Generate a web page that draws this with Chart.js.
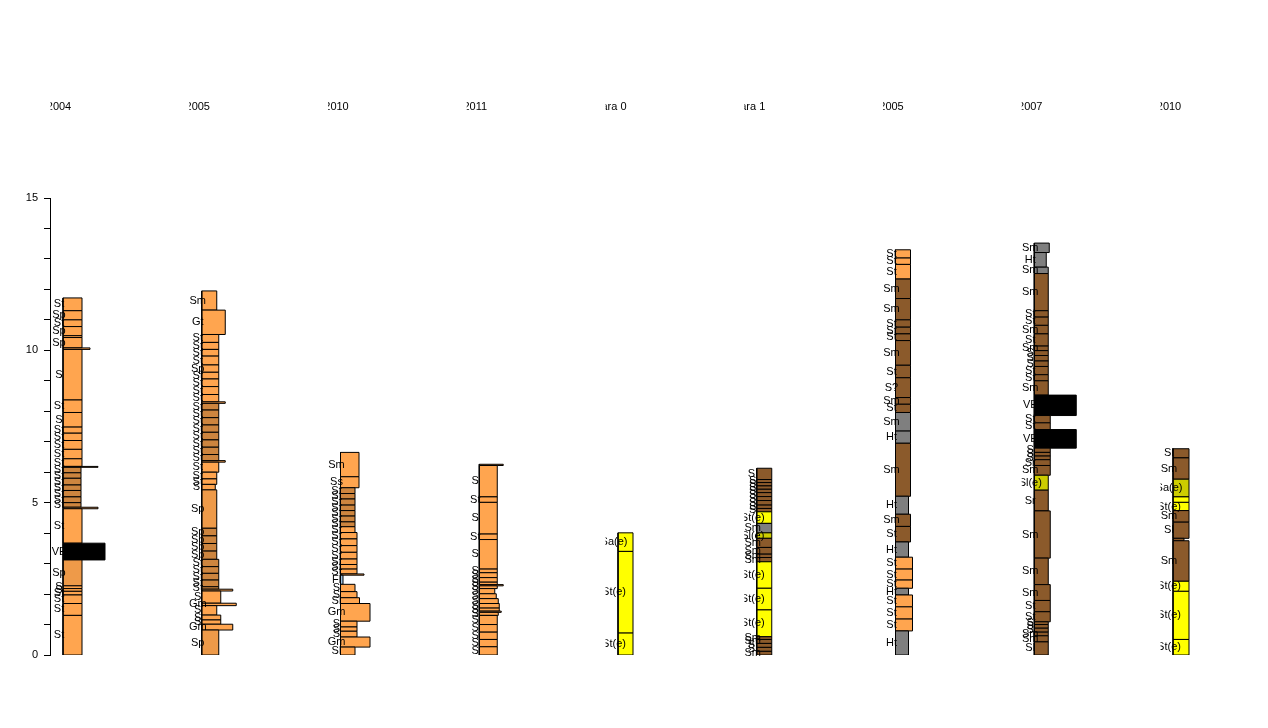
<!DOCTYPE html>
<html>
<head>
<meta charset="utf-8">
<script src="https://cdn.jsdelivr.net/npm/chart.js@4/dist/chart.umd.min.js"></script>
<style>
html,body{margin:0;padding:0;background:#ffffff;}
#wrap{width:1268px;height:728px;position:relative;}
</style>
</head>
<body>
<div id="wrap"><canvas id="chart" width="1268" height="728"></canvas></div>
<script>
// ---------------- DATA ----------------
const sectionTitles = ['2004', '2005', '2010', '2011', 'ara 0', 'ara 1', '2005', '2007', '2010'];
const depthTicks = [0, 5, 10, 15];

// Section 1
const s1Bounds = [0,1.30,1.69,1.97,2.09,2.18,2.27,3.12,3.67,4.80,4.85,5.00,5.19,5.40,5.58,5.80,5.98,6.16,6.19,6.44,6.75,7.04,7.28,7.48,7.96,8.37,10.03,10.08,10.42,10.48,10.78,11.00,11.30,11.72];
const s1Grain  = [19,19,19,19,19,19,19,42,19,35,18,18,18,18,18,18,18,35,19,19,19,19,19,19,19,19,27,19,19,19,19,19,19];
const s1Lith   = ['o','o','o','o','o','o','d','k','o','o','p','p','p','p','p','p','p','o','o','o','o','o','o','o','o','o','o','o','o','o','o','o','o'];
const s1Facies = ['St','St','St','St','S','S','Sp','VE','St','','St','St','St','St','St','St','St','','St','St','St','St','St','S','St','S','','Sp','','Sp','St','Sp','St'];

// Section 2
const s2Bounds = [0,0.82,1.01,1.15,1.31,1.62,1.70,2.10,2.16,2.24,2.46,2.68,2.90,3.14,3.41,3.66,3.91,4.16,5.42,5.60,5.78,6.00,6.33,6.38,6.58,6.82,7.06,7.31,7.55,7.79,8.04,8.26,8.31,8.55,8.81,9.06,9.28,9.52,9.81,10.03,10.26,10.52,11.32,11.95];
const s2Grain  = [17,31,19,19,15,34.5,19,31,17,17,17,17,17,15,15,15,15,15,13.5,15,15,17,23.5,17,17,17,17,17,17,17,17,23.5,17,17,17,17,17,17,17,17,17,23.5,15];
const s2Lith   = ['d','o','o','o','o','o','o','o','p','p','p','p','p','p','p','p','p','d','o','o','o','o','o','p','p','p','p','p','p','p','p','o','o','o','o','o','o','o','o','o','o','o','o'];
const s2Facies = ['Sp','Gm','S','S','S','Gm','S','','St','St','St','St','St','Sp','Sp','Sp','Sp','Sp','Sl','St','St','St','','St','St','St','St','St','St','St','St','','St','St','St','St','Sp','St','St','St','St','Gt','Sm'];

// Section 3
const s3Bounds = [0,0.26,0.59,0.78,0.92,1.11,1.69,1.88,2.08,2.32,2.62,2.66,2.82,2.97,3.15,3.37,3.59,3.81,4.02,4.21,4.37,4.56,4.74,4.92,5.12,5.30,5.49,5.85,6.65];
const s3Grain  = [14.5,29.5,16.5,16.5,16.5,29.5,19,16.5,14.5,2.5,23.5,16.5,16.5,16.5,16.5,16.5,16.5,16.5,14.5,14.5,14.5,14.5,14.5,14.5,14.5,14.5,18.5,18.5];
const s3Lith   = ['o','o','o','o','o','o','o','o','o','c','o','o','o','o','o','o','o','o','o','p','p','p','p','p','p','p','o','o'];
const s3Facies = ['Sl','Gm','S','S','S','Gm','Sl','S','S','Fl','','St','St','St','St','St','St','St','St','St','St','St','St','St','St','St','Ss','Sm'];

// Section 4
const s4Bounds = [0,0.27,0.51,0.75,1.00,1.30,1.40,1.44,1.54,1.69,1.85,2.01,2.18,2.27,2.31,2.39,2.54,2.70,2.82,3.79,3.97,5.01,5.19,6.22,6.26];
const s4Grain  = [18,18,18,18,18,19,22,20,20,19,17,15.5,18,24,18,18,18,18,18,18,18,18,18,24];
const s4Lith   = ['o','o','o','o','o','o','o','o','o','o','o','o','o','o','o','o','o','o','o','o','o','o','o','o'];
const s4Facies = ['S','S','S','S','S','S','','S','S','S','S','S','S','','S','S','S','S','S','St','S','St','S',''];

// Section 5
const s5Bounds = [0,0.72,3.40,4.01];
const s5Grain  = [15,15,15];
const s5Lith   = ['y','y','y'];
const s5Facies = ['St(e)','St(e)','Sa(e)'];

// Section 6
const s6Bounds = [0,0.12,0.25,0.38,0.51,0.60,1.48,2.19,3.06,3.20,3.31,3.53,3.83,4.01,4.32,4.70,4.81,4.92,5.07,5.20,5.33,5.44,5.55,5.66,5.76,6.13];
const s6Grain  = [15,15,15,15,15,15,15,15,15,15,15,15,15,15,15,15,15,15,15,15,15,15,15,15,15];
const s6Lith   = ['b','b','b','b','b','y','y','y','b','b','b','b','l','g','y','b','b','b','b','b','b','b','b','b','b'];
const s6Facies = ['Sm','Sl','Sl','Sm','Sm','St(e)','St(e)','St(e)','Sm','Sm','Sm','Sm','Sl(e)','Sm','St(e)','S','S','S','S','S','S','S','S','S','Sl'];

// Section 7
const s7Bounds = [0,0.79,1.18,1.58,1.97,2.19,2.46,2.82,3.21,3.71,4.22,4.62,5.21,6.95,7.35,7.96,8.23,8.45,9.10,9.51,10.32,10.54,10.76,11.00,11.70,12.34,12.82,13.03,13.30];
const s7Grain  = [13,17,17,17,13,17,17,17,13,15,15,13,15,15,15,15,15,15,15,15,15,15,15,15,15,15,15,15];
const s7Lith   = ['g','o','o','o','g','o','o','o','g','b','b','g','b','g','g','b','b','b','b','b','b','b','b','b','b','o','o','o'];
const s7Facies = ['Ht','St','St','St','Ht','St','St','St','Ht','St','Sm','Ht','Sm','Ht','Sm','St','Sm','S?','St','Sm','St','St','St','Sm','Sm','St','St','St'];

// Section 8
const s8Bounds = [0,0.43,0.63,0.75,0.88,1.00,1.09,1.42,1.79,2.31,3.18,4.73,5.41,5.90,6.22,6.41,6.53,6.65,6.79,7.40,7.62,7.86,8.53,9.00,9.20,9.47,9.65,9.83,9.99,10.14,10.54,10.82,11.09,11.30,12.52,12.73,13.21,13.52];
const s8Grain  = [14,14,14,14,14,14,16,16,16,14,16,14,14,16,16,16,16,16,42,16,16,42,14,14,14,14,14,14,14,14,14,14,14,14,14,12,15];
const s8Lith   = ['b','b','b','b','b','b','b','b','b','b','b','b','l','b','b','b','b','b','k','b','b','k','b','b','b','b','b','b','b','b','b','b','b','b','g','g','g'];
const s8Facies = ['Sl','Sm','Sm','S','S','S','St','St','Sm','Sm','Sm','Sr','Sl(e)','Sm','Sr','S','S','S','VE','St','St','VE','Sm','St','St','S','S','S','Sm','St','Sm','St','St','Sm','Sm','Ht','Sm'];

// Section 9
const s9Bounds = [0,0.51,2.09,2.42,3.75,3.83,4.36,4.74,5.01,5.19,5.77,6.47,6.77];
const s9Grain  = [16,16,16,16,11,16,16,16,16,16,16,16];
const s9Lith   = ['y','y','y','b','b','b','b','y','y','l','b','b'];
const s9Facies = ['St(e)','St(e)','St(e)','Sm','','Sl','Sm','St(e)','','Sa(e)','Sm','Sl'];

// ---------------- STYLE ----------------
const LITH_COLORS = {o:'#FFA54F', p:'#CD853F', d:'#EE9A49', b:'#8B5A2B', g:'#7F7F7F', y:'#FFFF00', l:'#CDCD00', k:'#000000', c:'#9AC0E0'};
const COL_PX = 138.75;            // pixel spacing between section columns
const FONT = '"Liberation Sans", Arial, Helvetica, sans-serif';

const sections = [
  {bounds:s1Bounds, grain:s1Grain, lith:s1Lith, facies:s1Facies},
  {bounds:s2Bounds, grain:s2Grain, lith:s2Lith, facies:s2Facies},
  {bounds:s3Bounds, grain:s3Grain, lith:s3Lith, facies:s3Facies},
  {bounds:s4Bounds, grain:s4Grain, lith:s4Lith, facies:s4Facies},
  {bounds:s5Bounds, grain:s5Grain, lith:s5Lith, facies:s5Facies},
  {bounds:s6Bounds, grain:s6Grain, lith:s6Lith, facies:s6Facies},
  {bounds:s7Bounds, grain:s7Grain, lith:s7Lith, facies:s7Facies},
  {bounds:s8Bounds, grain:s8Grain, lith:s8Lith, facies:s8Facies},
  {bounds:s9Bounds, grain:s9Grain, lith:s9Lith, facies:s9Facies}
];
sections.forEach((s, i) => { s.title = sectionTitles[i]; });

// build one closed-shape line dataset per layer
const datasets = [];
sections.forEach((s, i) => {
  for (let j = 0; j < s.grain.length; j++) {
    const x0 = i, x1 = i + s.grain[j] / COL_PX;
    const y0 = s.bounds[j], y1 = s.bounds[j + 1];
    datasets.push({
      data: [{x:x0,y:y0},{x:x1,y:y0},{x:x1,y:y1},{x:x0,y:y1},{x:x0,y:y0}],
      backgroundColor: LITH_COLORS[s.lith[j]],
      borderColor: '#000000',
      borderWidth: 1,
      borderJoinStyle: 'miter',
      fill: 'shape',
      pointRadius: 0,
      pointHoverRadius: 0,
      tension: 0
    });
  }
});

const labelPlugin = {
  id: 'sectionLabels',
  afterDatasetsDraw(chart) {
    const {ctx} = chart;
    const xs = chart.scales.x, ys = chart.scales.y;
    ctx.save();
    ctx.font = '11px ' + FONT;
    ctx.fillStyle = '#000000';
    ctx.textAlign = 'center';
    ctx.textBaseline = 'middle';
    sections.forEach((s, i) => {
      const left = xs.getPixelForValue(i);
      ctx.save();
      ctx.beginPath();
      ctx.rect(left - 12.5, 0, COL_PX, chart.height);
      ctx.clip();
      ctx.fillText(s.title, left - 4, ys.getPixelForValue(18));
      s.facies.forEach((f, j) => {
        if (!f) return;
        const mid = (s.bounds[j] + s.bounds[j + 1]) / 2;
        ctx.fillText(f, left - 4, ys.getPixelForValue(mid));
      });
      ctx.restore();
    });
    ctx.restore();
  }
};

new Chart(document.getElementById('chart'), {
  type: 'line',
  data: { datasets },
  options: {
    responsive: false,
    animation: false,
    devicePixelRatio: 1,
    events: [],
    layout: { padding: { left: 26, right: 50, top: 198, bottom: 73 } },
    plugins: { legend: { display: false }, tooltip: { enabled: false } },
    scales: {
      x: { type: 'linear', display: false, min: -13 / COL_PX, max: -13 / COL_PX + 1168 / COL_PX },
      y: {
        type: 'linear', min: 0, max: 15,
        afterFit: (scale) => { scale.width = 24; },
        ticks: {
          stepSize: 1, autoSkip: false, padding: 6, color: '#000000',
          font: { size: 11, family: FONT },
          callback: (v) => depthTicks.includes(v) ? String(v) : ''
        },
        grid: { drawOnChartArea: false, drawTicks: true, tickLength: 6, color: '#000000', tickColor: '#000000' },
        border: { display: true, color: '#000000', width: 1 }
      }
    }
  },
  plugins: [labelPlugin]
});
</script>
</body>
</html>
